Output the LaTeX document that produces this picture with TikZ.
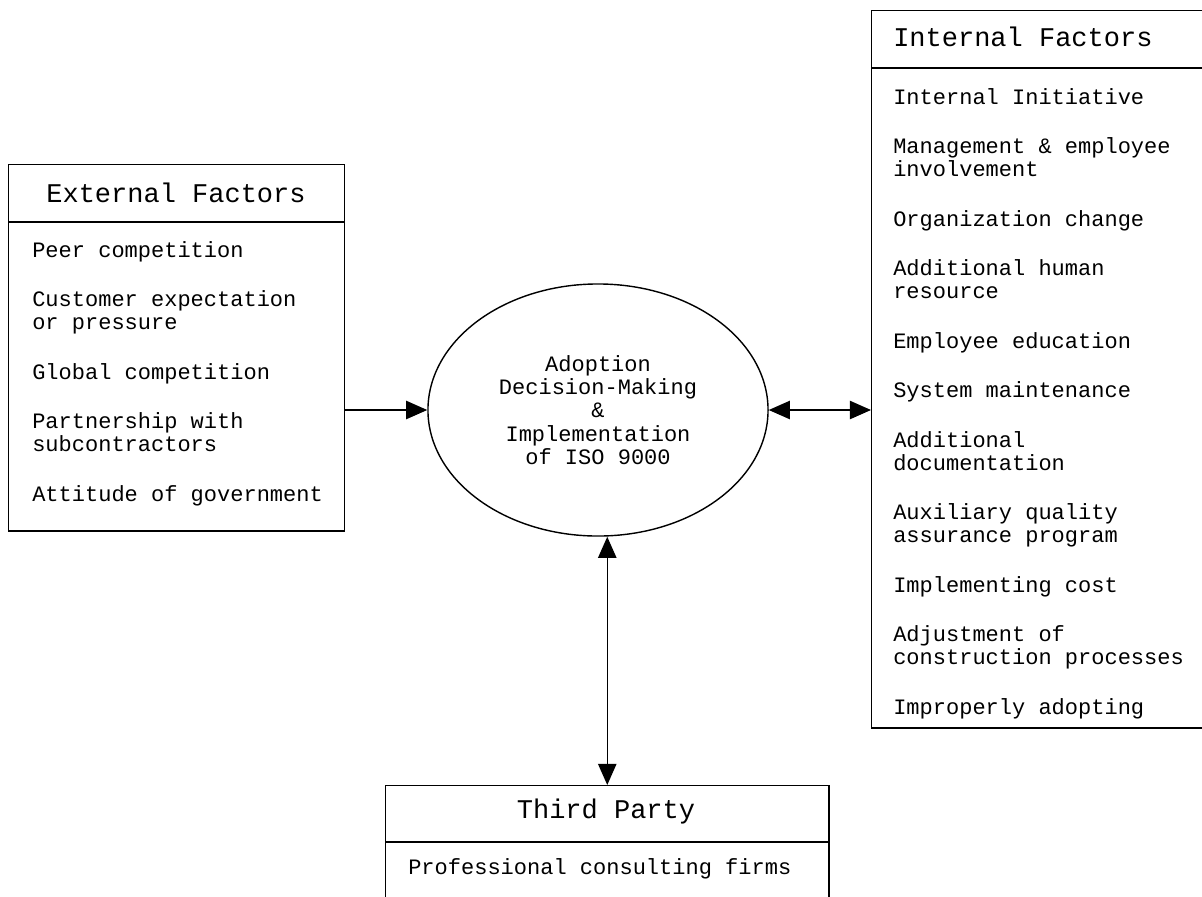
\documentclass[tikz,border=0pt]{standalone}
\usepackage{fontspec}
\newfontfamily\courier{Liberation Mono}
\usetikzlibrary{shapes.geometric,arrows.meta}

\tikzset{
  factorbox/.style={draw, line width=1pt, inner sep=0pt, anchor=north west},
  headtext/.style={font=\courier\fontsize{19.2}{20}\selectfont, inner sep=0pt},
  itemtext/.style={font=\courier\fontsize{15.65}{16.36}\selectfont, align=left, inner sep=0pt, anchor=north west},
  link/.style={line width=1pt, -{Triangle[length=15pt,width=13pt]}},
  twolink/.style={line width=1pt, {Triangle[length=15pt,width=13pt]}-{Triangle[length=15pt,width=13pt]}},
}
\newcommand{\itemgap}{\\[18.85pt]}

\begin{document}
\begin{tikzpicture}[x=0.025cm, y=-0.025cm]
            \clip (0,0) rectangle (1202,896);

            % the three boxes
            \node[factorbox, minimum width=8.4cm, minimum height=9.15cm] (ext) at (8,164) {};
            \node[factorbox, minimum width=9.5cm, minimum height=17.925cm] (int) at (871,10) {};
            \node[factorbox, minimum width=11.075cm, minimum height=4cm] (third) at (385,785) {};

            \coordinate (extsep) at (0,222);
            \coordinate (intsep) at (0,68);
            \coordinate (thirdsep) at (0,842);
            \draw[line width=1pt] (ext.west |- extsep) -- (ext.east |- extsep);
            \draw[line width=1pt] (int.west |- intsep) -- (int.east |- intsep);
            \draw[line width=1pt] (third.west |- thirdsep) -- (third.east |- thirdsep);

            \node[headtext] (exttitle) at (176,193) {External Factors};
            \node[headtext, anchor=west] (inttitle) at (893,37) {Internal Factors};
            \node[headtext] (thirdtitle) at (606,812) {Third Party};

            \node[itemtext] (extlist) at (32,241) {Peer competition\itemgap
                Customer expectation\\or pressure\itemgap
                Global competition\itemgap
                Partnership with\\subcontractors\itemgap
                Attitude of government};
            \node[itemtext] (intlist) at (893,88) {Internal Initiative\itemgap
                Management \& employee\\involvement\itemgap
                Organization change\itemgap
                Additional human\\resource\itemgap
                Employee education\itemgap
                System maintenance\itemgap
                Additional\\documentation\itemgap
                Auxiliary quality\\assurance program\itemgap
                Implementing cost\itemgap
                Adjustment of\\construction processes\itemgap
                Improperly adopting};
            \node[itemtext] (thirdlist) at (408,858) {Professional consulting firms};

            % centre
            \node[draw, ellipse, line width=1pt, minimum width=8.5cm, minimum height=6.3cm, inner sep=0pt, align=center,
                font=\courier\fontsize{15.65}{16.6}\selectfont] (adopt) at (598,410)
                {Adoption\\Decision-Making\\\&\\Implementation\\of ISO 9000};

            \draw[link] (ext.east |- adopt.west) -- (adopt.west);
            \draw[twolink] (adopt.east) -- (int.west |- adopt.east);
            \draw[twolink] (third.north |- adopt.south) -- (third.north);
        \end{tikzpicture}
\end{document}
